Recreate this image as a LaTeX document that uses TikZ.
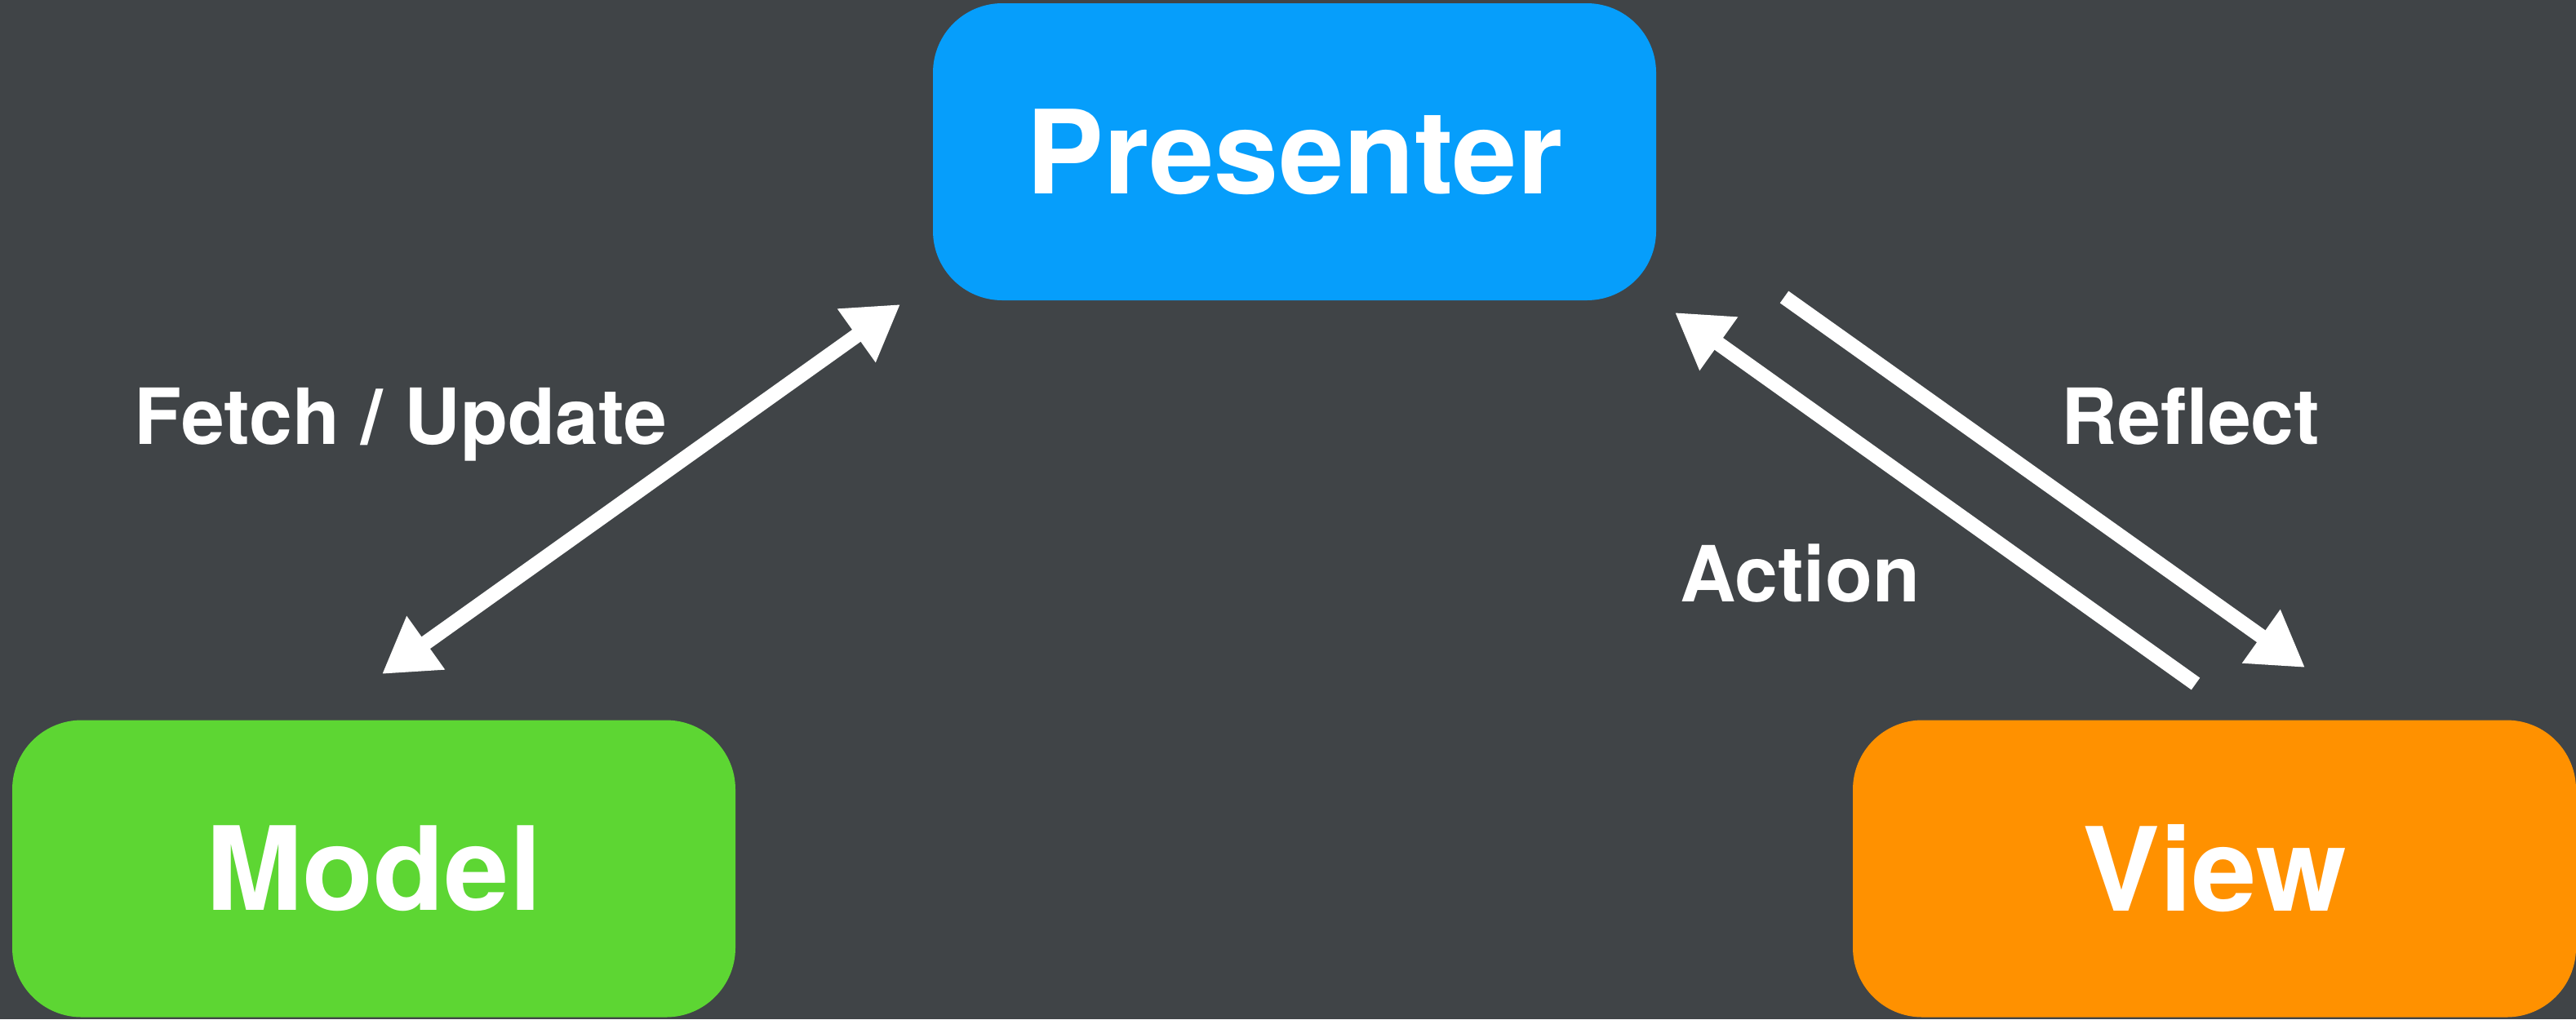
\documentclass[tikz,border=0pt]{standalone}
\usepackage{fontspec}
\setmainfont{TeX Gyre Heros}
\usetikzlibrary{arrows.meta}
\definecolor{bgdark}{RGB}{64,68,71}
\definecolor{presblue}{RGB}{6,158,251}
\definecolor{modelgreen}{RGB}{93,214,51}
\definecolor{vieworange}{RGB}{255,145,0}
\tikzset{
  block/.style={rounded corners=0.85cm, minimum width=8.86cm, minimum height=3.64cm,
    inner sep=0pt, text=white, font=\fontsize{40.5}{48}\selectfont\bfseries},
  flowlabel/.style={anchor=base, text=white, inner sep=0pt, font=\fontsize{27}{32}\selectfont\bfseries},
  flow/.style={draw=white, line width=0.18cm, line cap=butt,
    -{Triangle[length=0.66cm, width=0.76cm]}},
  biflow/.style={flow, {Triangle[length=0.66cm, width=0.76cm]}-{Triangle[length=0.66cm, width=0.76cm]}}
}
\begin{document}
\begin{tikzpicture}
  % canvas
  \fill[bgdark] (0,0) rectangle (31.56,-12.49);
  \useasboundingbox (0,0) rectangle (31.56,-12.49);

  % the three parts
  \node[block, fill=presblue]   (presenter) at (15.86,-1.86)  {Presenter};
  \node[block, fill=modelgreen] (model)     at (4.58,-10.645) {Model};
  \node[block, fill=vieworange] (view)      at (27.13,-10.645) {View};

  % arrow end points
  \coordinate (fuModel) at (4.68,-8.26);
  \coordinate (fuPres)  at (11.03,-3.73);
  \coordinate (rfPres)  at (21.86,-3.64);
  \coordinate (rfView)  at (28.24,-8.18);
  \coordinate (acView)  at (26.90,-8.38);
  \coordinate (acPres)  at (20.52,-3.83);

  % connectors
  \draw[biflow] (fuModel) -- (fuPres);
  \draw[flow]   (rfPres) -- (rfView);
  \draw[flow]   (acView) -- (acPres);

  % labels
  \node[flowlabel] (lblFetch)   at (4.91,-5.44)  {Fetch / Update};
  \node[flowlabel] (lblReflect) at (26.84,-5.44) {Reflect};
  \node[flowlabel] (lblAction)  at (22.05,-7.37) {Action};
\end{tikzpicture}
\end{document}
